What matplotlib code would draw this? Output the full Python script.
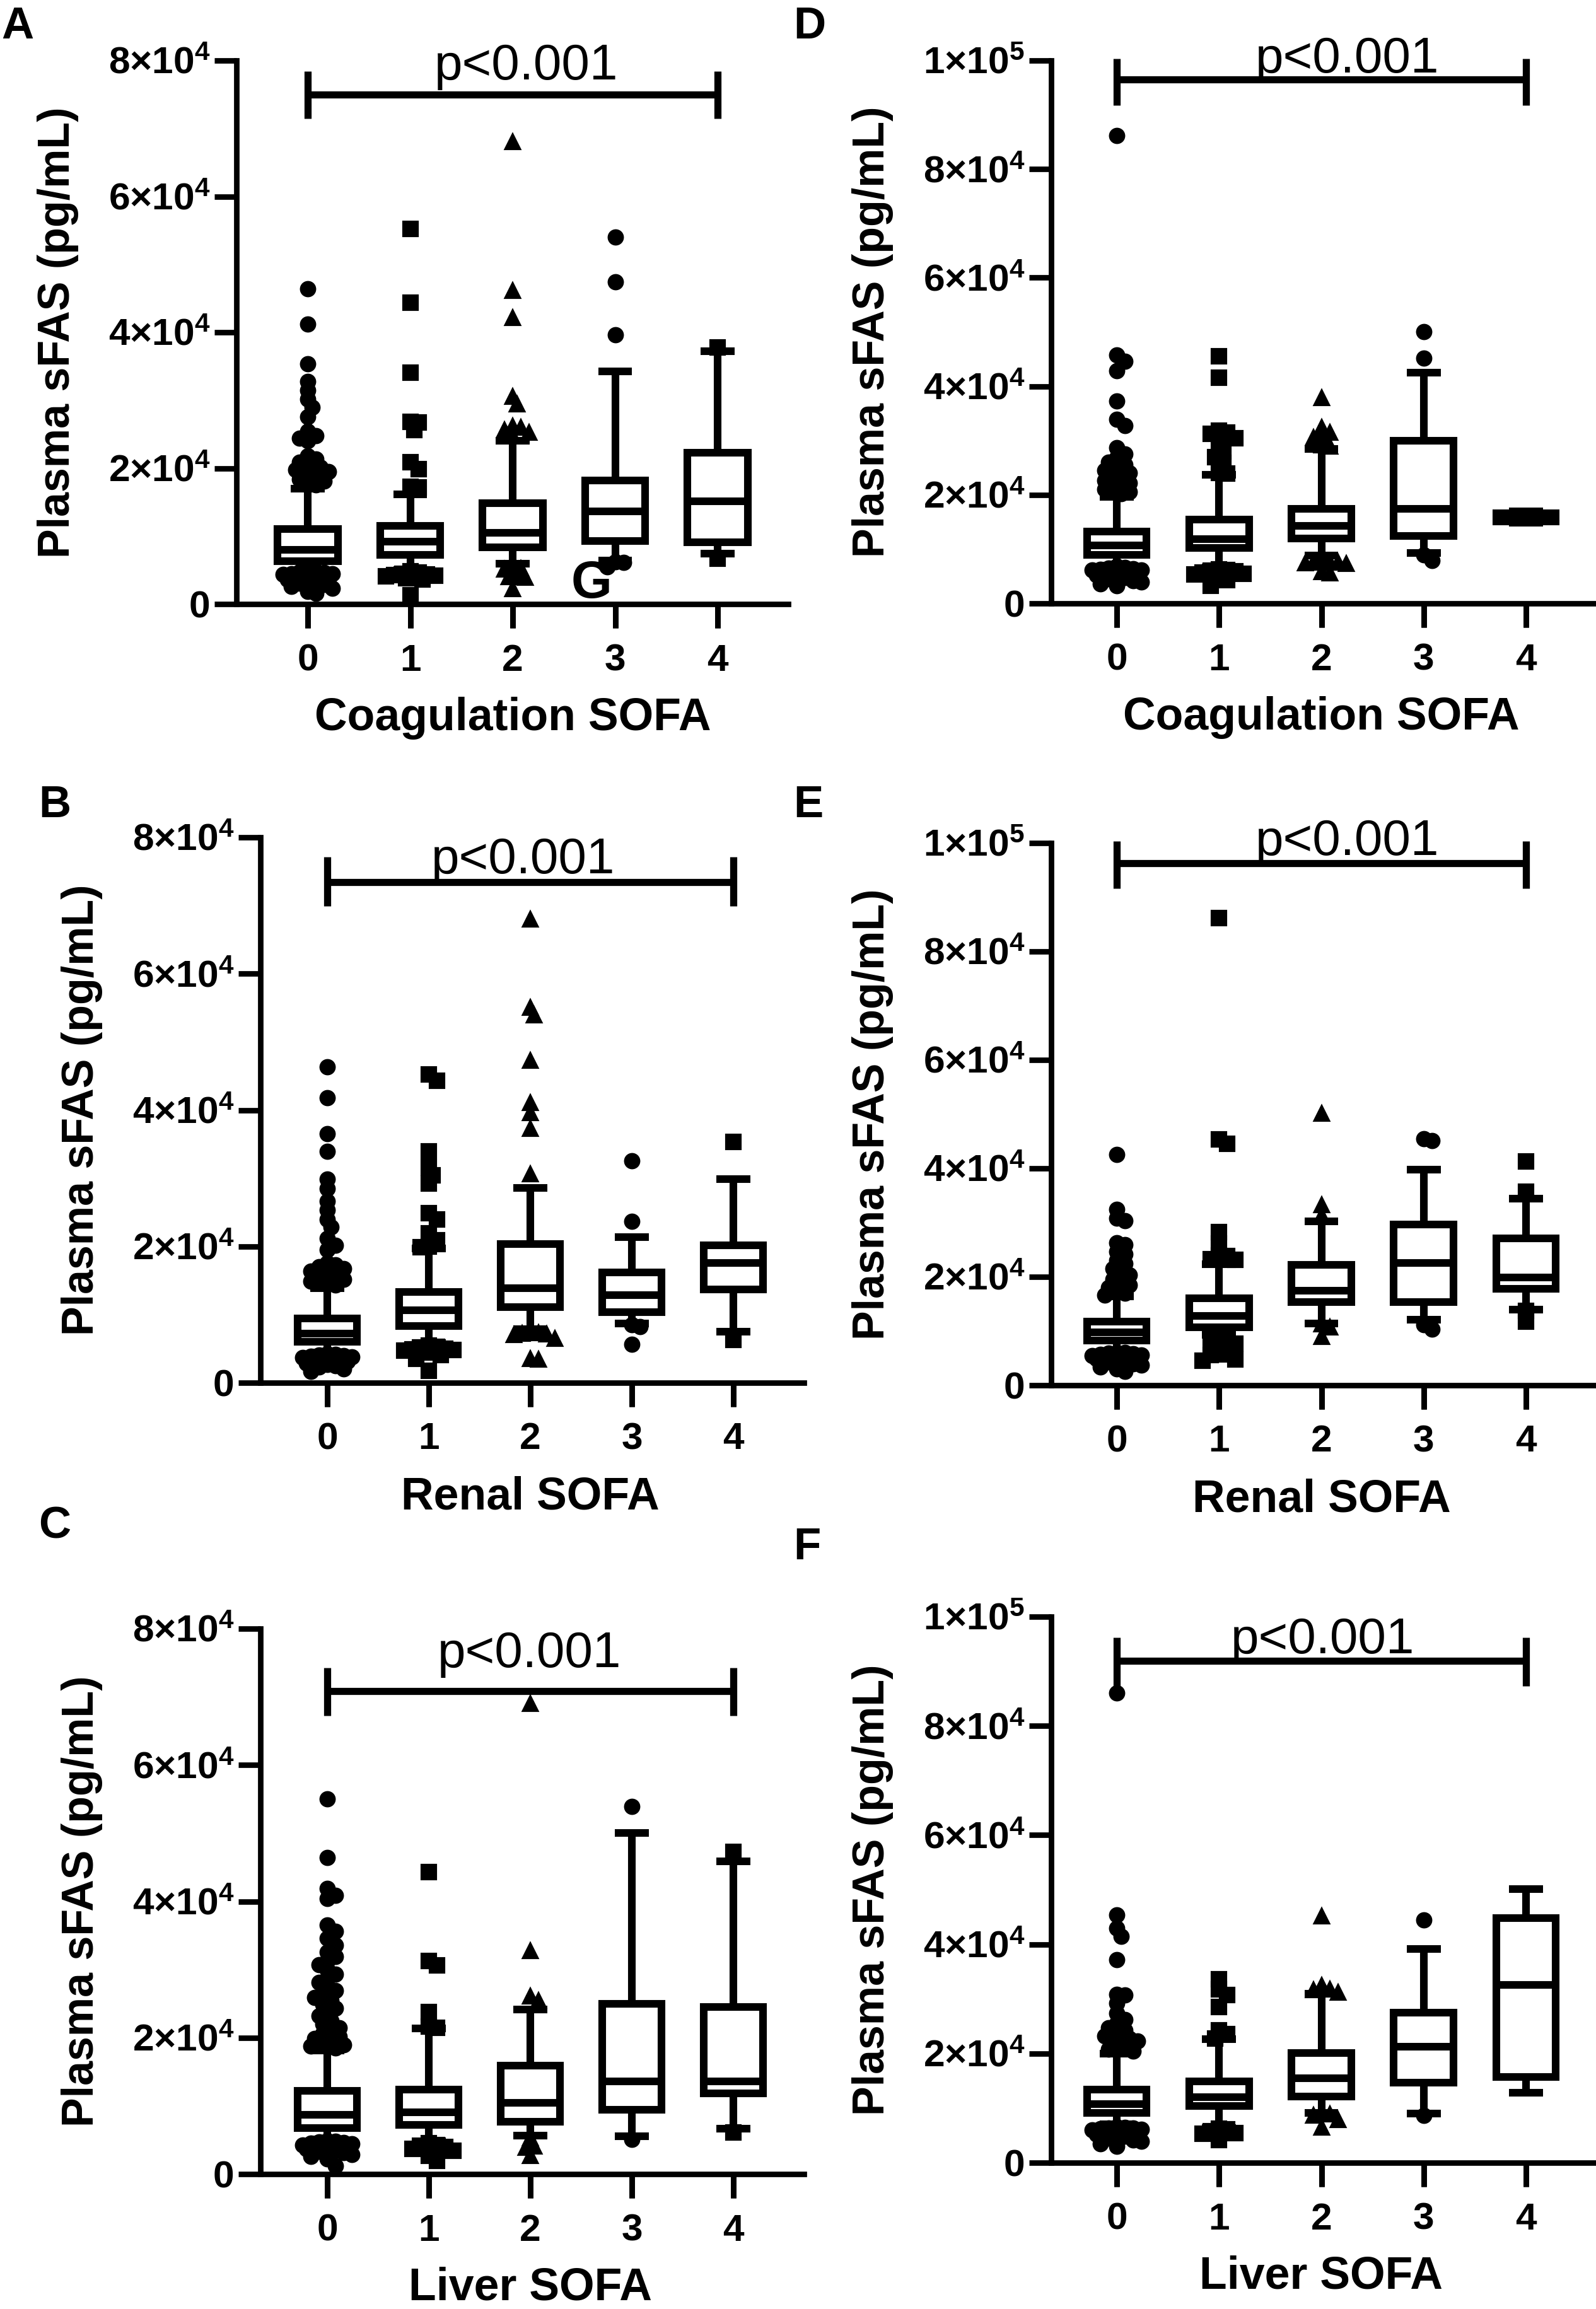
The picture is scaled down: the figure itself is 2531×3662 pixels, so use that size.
import matplotlib
matplotlib.use("Agg")
import matplotlib.pyplot as plt
import numpy as np

plt.rcParams['font.family'] = ['Liberation Sans', 'DejaVu Sans']
plt.rcParams['mathtext.fontset'] = 'custom'
plt.rcParams['mathtext.bf'] = 'Liberation Sans:bold'
plt.rcParams['mathtext.rm'] = 'Liberation Sans:bold'
plt.rcParams['mathtext.default'] = 'bf'

W, H, DPI = 2531, 3662, 300

# ---- data ----
cats = [0, 1, 2, 3, 4]
cat_labels = ['0', '1', '2', '3', '4']
markers = ['o', 's', '^', 'o', 's']

ticks_8 = [0, 20000, 40000, 60000, 80000]
labels_8 = ['0', '2×10$^4$', '4×10$^4$', '6×10$^4$', '8×10$^4$']
ticks_10 = [0, 20000, 40000, 60000, 80000, 100000]
labels_10 = ['0', '2×10$^4$', '4×10$^4$', '6×10$^4$', '8×10$^4$', '1×10$^5$']

# A - coagulation, cohort 1
a_q1 = [6300, 7270, 8350, 9300, 9060]
a_med = [8000, 9150, 10500, 13600, 15100]
a_q3 = [11000, 11550, 14850, 18150, 22300]
a_wlo = [4600, 5050, 5900, 6450, 7400]
a_whi = [17000, 16150, 24000, 34200, 37200]
a_out = [
    [46400, 41200, 35400, 32800, 31500, 30200, 29000, 27600, 25400, 24800, 24400, 24000,
     21800, 21300, 20900, 20500, 20100, 19800, 19500, 19100, 18800, 18400, 18100, 17800, 17500,
     4900, 4800, 4700, 4600, 4500, 4450, 4350, 4250, 4150, 4050, 3950, 3800, 3650, 3500,
     3300, 3100, 2900, 2600, 2300, 1900, 1600],
    [55200, 44400, 34100, 26800, 26700, 25600, 20900, 19900, 17300, 17200,
     4800, 4600, 4500, 4400, 4300, 4200, 4100, 3900, 3800, 3600, 1300],
    [68000, 46100, 42100, 30500, 29400, 26200, 26000, 25600, 25200, 24800,
     5300, 5200, 5100, 4100, 4000, 3900, 2200],
    [54000, 47400, 39600, 6200, 6100, 5500],
    [37800, 6700],
]

# B - renal, cohort 1
b_q1 = [6000, 8350, 11100, 10350, 13650]
b_med = [7200, 10600, 13900, 12900, 17600]
b_q3 = [9400, 13350, 20350, 16200, 20200]
b_wlo = [4400, 5800, 7900, 8650, 7450]
b_whi = [13900, 19700, 28550, 21400, 29900]
b_out = [
    [46300, 41800, 36500, 33900, 29900, 28500, 26600, 25300, 24000, 22800, 21200, 20200,
     19500, 17600, 17300, 17000, 16700, 16400, 16100, 15800, 15500, 15200, 14900, 14600, 14300,
     4300, 4200, 4100, 4000, 3900, 3800, 3700, 3600, 3500, 3400, 3300, 3100, 2900, 2700,
     2500, 2300, 2000, 1700],
    [45200, 44300, 33900, 31500, 30400, 29200, 24900, 24000, 21900, 20900, 20000, 19900,
     5500, 5300, 5200, 5000, 4900, 4800, 4700, 4500, 4400, 4100, 3500, 1800],
    [68000, 55000, 53900, 47300, 41100, 39600, 37300, 30600,
     7400, 7300, 7200, 7100, 7000, 6500, 3500, 3400],
    [32600, 23700, 8500, 8200, 5600],
    [35300, 6300],
]

# C - liver, cohort 1
c_q1 = [6750, 7200, 7700, 9400, 11800]
c_med = [8650, 9100, 10450, 13550, 13550]
c_q3 = [12250, 12350, 15900, 25000, 24500]
c_wlo = [5100, 4850, 5650, 5550, 6700]
c_whi = [18150, 21400, 24100, 50000, 45850]
c_out = [
    [55000, 46400, 41900, 40900, 40400, 36500, 35600, 34600, 33600, 32600, 31900, 31300,
     30700, 30000, 29300, 28700, 28100, 27400, 26900, 26300, 25900, 25400, 24900, 24300,
     23700, 23200, 22500, 22000, 21500, 21000, 20600, 20200, 19900, 19600, 19300, 19000,
     18800, 18500,
     4900, 4800, 4700, 4600, 4500, 4400, 4300, 4200, 4100, 4000, 3900, 3800, 3700, 3600,
     3500, 3300, 3100, 2900, 2600, 2200, 1200],
    [44300, 31300, 30600, 23800, 21600, 21500,
     4500, 4300, 4100, 4000, 3700, 3400, 2700, 1900],
    [69000, 32700, 26100, 25400, 5300, 4100, 3900, 2700],
    [53900, 5100],
    [47300, 6100],
]

# D - coagulation, cohort 2
d_q1 = [8900, 10200, 12000, 12400, 15050]
d_med = [10700, 11900, 14300, 17400, 15900]
d_q3 = [13200, 15400, 17400, 30000, 16600]
d_wlo = [7000, 6600, 8800, 9300, 14900]
d_whi = [19600, 23700, 28500, 42500, 16900]
d_out = [
    [86200, 45800, 44600, 42800, 37300, 33900, 32700, 28700, 27500, 26800, 26000, 25500,
     25000, 24500, 24000, 23500, 23000, 22600, 22200, 21800, 21400, 21000, 20600, 20200,
     6800, 6600, 6500, 6400, 6300, 6200, 6100, 6000, 5900, 5800, 5600, 5400, 5200, 5000,
     4800, 4500, 4200, 3900, 3600, 3300],
    [45500, 41600, 31800, 31500, 31200, 30400, 29500, 28000, 26900, 25900, 24000, 23900,
     6300, 6200, 6000, 5900, 5700, 5500, 5400, 4500, 4300, 3200],
    [37900, 32400, 31500, 30800, 30500, 29100, 28900,
     8200, 7600, 7500, 7500, 7400, 7300, 5800, 5600],
    [50100, 45200, 9000, 7900],
    [],
]

# E - renal, cohort 2
e_q1 = [8250, 10650, 15300, 15300, 17800]
e_med = [9800, 12800, 17500, 22600, 19900]
e_q3 = [11800, 16050, 22200, 29700, 27150]
e_wlo = [6300, 9250, 11450, 12100, 14000]
e_whi = [16400, 22300, 30200, 39800, 34450]
e_out = [
    [42500, 32400, 30800, 30400, 26300, 25900, 24600, 24200, 23000, 22500, 21500, 20800,
     20300, 19500, 18900, 18500, 18000, 17500, 17000, 16600,
     6100, 6000, 5900, 5800, 5700, 5600, 5500, 5400, 5300, 5200, 5100, 5000, 4900, 4700,
     4500, 4300, 4000, 3700, 3400, 3000, 2600],
    [86200, 45300, 44500, 28200, 26200, 24000, 23800, 23300, 23100,
     8100, 7800, 7700, 7700, 6000, 5700, 5600, 4800, 4500],
    [50100, 33300, 31300, 11300, 10700, 9000],
    [45500, 45100, 11200, 10400],
    [41300, 35700, 13700, 11800],
]

# F - liver, cohort 2
f_q1 = [9100, 10450, 12150, 14700, 15650]
f_med = [10700, 12000, 15500, 21300, 32550]
f_q3 = [13400, 14900, 20150, 27500, 44800]
f_wlo = [7100, 6300, 9100, 9000, 12800]
f_whi = [20000, 22600, 31000, 39100, 50100]
f_out = [
    [86000, 45400, 42900, 41500, 37200, 30800, 30700, 29200, 27400, 26200, 25500, 24700,
     24200, 23600, 23200, 22800, 22300, 21800, 21400, 20800, 20400,
     6600, 6500, 6400, 6300, 6200, 6100, 6000, 5900, 5800, 5700, 5600, 5400, 5200, 5000,
     4800, 4500, 4200, 3900, 3500, 3000],
    [33600, 31700, 30700, 28500, 24200, 23500, 22800,
     6200, 6100, 5800, 5400, 5300, 4200],
    [45200, 32400, 31700, 31600, 31200, 9000, 8900, 8700, 7900, 6500],
    [44500, 8700],
    [],
]

# significance bars: [bar y, end low, end high, text x, text baseline]
a_sig = [75000, 71500, 78400, 2.13, 77200]
b_sig = [73400, 69900, 77100, 1.93, 74700]
c_sig = [70800, 67200, 74300, 1.99, 74400]
d_sig = [96500, 91800, 100400, 2.25, 97800]
e_sig = [96300, 91600, 100300, 2.25, 97800]
f_sig = [91900, 87300, 96200, 2.01, 93300]

fig = plt.figure(figsize=(W / DPI, H / DPI), dpi=DPI)

LW = 2.9   # box / whisker lines
ALW = 2.1  # axis lines
MS = 5.2


def swarm(ax, x0, vals, ms, gap=0.6, maxw=0.27):
    # spread overlapping points sideways (pixel space), kept inside the box width
    d = ms * DPI / 72.0
    tr = ax.transData
    ppu = tr.transform((1, 0))[0] - tr.transform((0, 0))[0]
    ys = tr.transform(np.column_stack([np.full(len(vals), x0), vals]))[:, 1]
    step = d * 0.3
    lim = maxw * ppu
    cands = [0.0]
    k = 1
    while k * step <= lim:
        cands += [k * step, -k * step]
        k += 1
    placed = []
    offs = []
    for y in ys:
        best, bestd = 0.0, -1.0
        for c in cands:
            md = min([np.hypot(c - px, y - py) for px, py in placed], default=1e9)
            if md >= gap * d:
                best = c
                break
            if md > bestd:
                best, bestd = c, md
        placed.append((best, y))
        offs.append(best)
    return x0 + np.array(offs) / ppu


def panel(px, cat0, step, ymax, ticks, tlabels, q1, med, q3, wlo, whi, outs, sig, xlabel):
    left, right, top, bottom = px
    ax = fig.add_axes([left / W, 1 - bottom / H, (right - left) / W, (bottom - top) / H])
    ax.set_xlim((left - cat0) / step, (right - cat0) / step)
    ax.set_ylim(0, ymax)
    for s in ['top', 'right']:
        ax.spines[s].set_visible(False)
    for s in ['left', 'bottom']:
        ax.spines[s].set_linewidth(ALW)
    ax.set_xticks(cats)
    ax.set_xticklabels(cat_labels, fontsize=14.5, fontweight='bold')
    ax.set_yticks(ticks)
    ax.set_yticklabels(tlabels, fontsize=14.5, fontweight='bold')
    ax.tick_params(axis='y', length=8.5, width=ALW, pad=1.5)
    ax.tick_params(axis='x', length=9, width=ALW, pad=6)

    stats = []
    for i in range(5):
        stats.append(dict(med=med[i], q1=q1[i], q3=q3[i], whislo=wlo[i], whishi=whi[i], fliers=[]))
    ax.bxp(stats, positions=cats, widths=0.585, capwidths=0.33, showfliers=False,
           patch_artist=True,
           boxprops=dict(facecolor='white', edgecolor='black', linewidth=LW),
           medianprops=dict(color='black', linewidth=LW, solid_capstyle='butt'),
           whiskerprops=dict(color='black', linewidth=LW, solid_capstyle='butt'),
           capprops=dict(color='black', linewidth=LW, solid_capstyle='butt'),
           zorder=2)

    for i in range(5):
        if len(outs[i]) == 0:
            continue
        xs = swarm(ax, cats[i], outs[i], MS)
        ax.plot(xs, outs[i], linestyle='none', marker=markers[i], ms=MS,
                color='black', mec='black', zorder=3, clip_on=False)

    # p value bar
    ax.plot([0, 4], [sig[0], sig[0]], color='black', lw=2.7, clip_on=False, solid_capstyle='butt')
    for xe in [0, 4]:
        ax.plot([xe, xe], [sig[1], sig[2]], color='black', lw=2.7, clip_on=False,
                solid_capstyle='butt')
    ax.text(sig[3], sig[4], 'p<0.001', fontsize=19.2, fontweight='normal',
            ha='center', va='baseline')

    axw = right - left
    axh = bottom - top
    ax.set_xlabel(xlabel, fontsize=17.2, fontweight='bold')
    ax.xaxis.label.set_verticalalignment('baseline')
    ax.xaxis.set_label_coords((2 - ax.get_xlim()[0]) / (ax.get_xlim()[1] - ax.get_xlim()[0]),
                              -200 / axh)
    ax.set_ylabel('Plasma sFAS (pg/mL)', fontsize=16.8, fontweight='bold')
    ax.yaxis.label.set_verticalalignment('baseline')
    ax.yaxis.set_label_coords(-265 / axw, 0.5)
    return ax


axA = panel((375, 1250, 96, 958), 488, 162.5, 80000, ticks_8, labels_8,
            a_q1, a_med, a_q3, a_wlo, a_whi, a_out, a_sig, 'Coagulation SOFA')
axA.text(2.77, 900, 'G', fontsize=20, fontweight='bold', ha='center', va='baseline')
panel((413, 1275, 1328, 2193), 519, 161, 80000, ticks_8, labels_8,
      b_q1, b_med, b_q3, b_wlo, b_whi, b_out, b_sig, 'Renal SOFA')
panel((413, 1275, 2583, 3448), 519, 161, 80000, ticks_8, labels_8,
      c_q1, c_med, c_q3, c_wlo, c_whi, c_out, c_sig, 'Liver SOFA')
panel((1667, 2531, 96, 957), 1771, 162.25, 100000, ticks_10, labels_10,
      d_q1, d_med, d_q3, d_wlo, d_whi, d_out, d_sig, 'Coagulation SOFA')
panel((1667, 2531, 1337, 2197), 1771, 162.25, 100000, ticks_10, labels_10,
      e_q1, e_med, e_q3, e_wlo, e_whi, e_out, e_sig, 'Renal SOFA')
panel((1667, 2531, 2564, 3430), 1771, 162.25, 100000, ticks_10, labels_10,
      f_q1, f_med, f_q3, f_wlo, f_whi, f_out, f_sig, 'Liver SOFA')

# panel letters
for letter, x, y in [('A', 2, 61), ('B', 61, 1296), ('C', 61, 2440),
                     ('D', 1258, 61), ('E', 1258, 1296), ('F', 1258, 2473)]:
    fig.text(x / W, 1 - y / H, letter, fontsize=17, fontweight='bold', ha='left', va='baseline')

fig.savefig('out.png', dpi=DPI)
